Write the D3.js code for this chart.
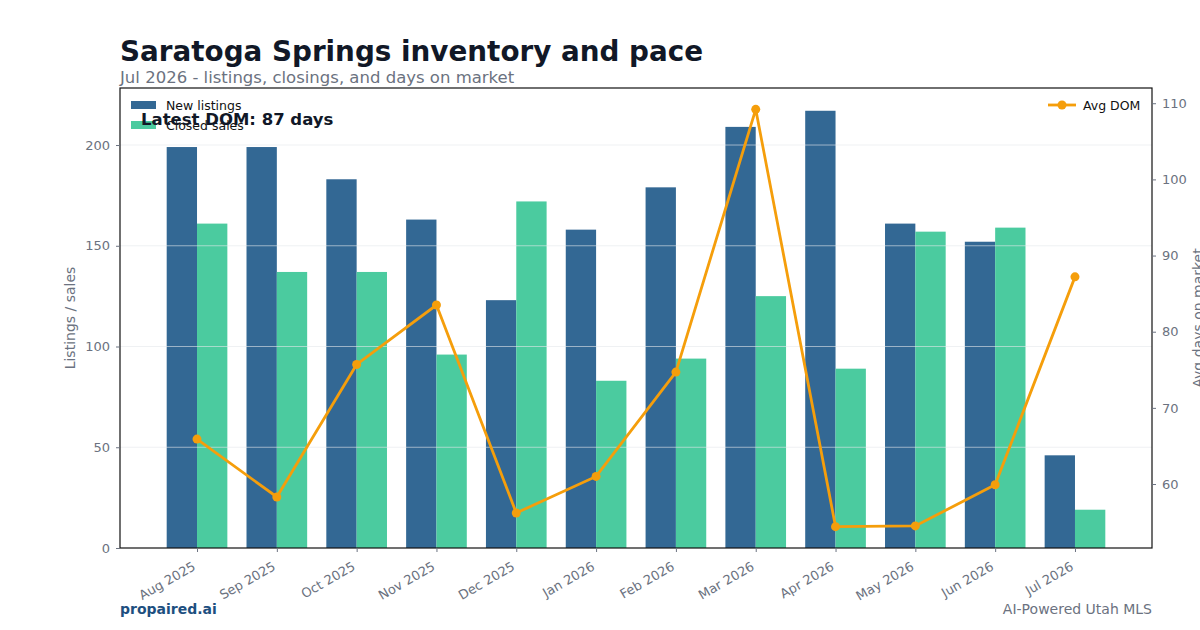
<!DOCTYPE html>
<html>
<head>
    <meta charset="utf-8">
    <title>Saratoga Springs inventory and pace</title>
    <script src="https://d3js.org/d3.v7.min.js"></script>
    <style>
        body { margin: 0; background: #fff; }
        text { font-family: "DejaVu Sans", sans-serif; }
    </style>
</head>
<body>
    <div id="chart"></div>
    <script>
        // data
        const months = ["Aug 2025", "Sep 2025", "Oct 2025", "Nov 2025", "Dec 2025", "Jan 2026",
                        "Feb 2026", "Mar 2026", "Apr 2026", "May 2026", "Jun 2026", "Jul 2026"];
        const newListings = [199, 199, 183, 163, 123, 158, 179, 209, 217, 161, 152, 46];
        const closedSales = [161, 137, 137, 96, 172, 83, 94, 125, 89, 157, 159, 19];
        const avgDom = [65.9, 58.3, 75.7, 83.5, 56.2, 61.0, 74.7, 109.2, 54.4, 54.5, 59.9, 87.2];
        const leftTicks = [0, 50, 100, 150, 200];
        const rightTicks = [60, 70, 80, 90, 100, 110];

        const width = 1200, height = 630;
        const plot = {left: 120, right: 1152, top: 88, bottom: 548};
        const gray = "#6b7280";

        const svg = d3.select("#chart")
          .append("svg")
            .attr("width", width)
            .attr("height", height);

        const x = d3.scaleLinear()
            .domain([-0.965, months.length - 1 + 0.965])
            .range([plot.left, plot.right]);
        const y = d3.scaleLinear().domain([0, 228.3]).range([plot.bottom, plot.top]);
        const y2 = d3.scaleLinear().domain([51.6, 112]).range([plot.bottom, plot.top]);
        const barW = (x(1) - x(0)) * 0.38;

        // titles
        svg.append("text").attr("x", 120).attr("y", 61)
            .attr("font-size", 27.8).attr("font-weight", "bold").attr("fill", "#111827")
            .text("Saratoga Springs inventory and pace");
        svg.append("text").attr("x", 120).attr("y", 83)
            .attr("font-size", 16.5).attr("fill", gray)
            .text("Jul 2026 - listings, closings, and days on market");

        // bars
        const idx = d3.range(months.length);
        svg.append("g").selectAll("rect").data(idx).join("rect")
            .attr("x", i => x(i) - barW)
            .attr("y", i => y(newListings[i]))
            .attr("width", barW)
            .attr("height", i => y(0) - y(newListings[i]))
            .attr("fill", "#336894");
        svg.append("g").selectAll("rect").data(idx).join("rect")
            .attr("x", i => x(i))
            .attr("y", i => y(closedSales[i]))
            .attr("width", barW)
            .attr("height", i => y(0) - y(closedSales[i]))
            .attr("fill", "#4bcb9f");

        // grid (drawn above bars, as in the reference)
        svg.append("g").selectAll("line").data(leftTicks.slice(1)).join("line")
            .attr("x1", plot.left).attr("x2", plot.right)
            .attr("y1", d => y(d)).attr("y2", d => y(d))
            .attr("stroke", "#e5e7eb").attr("stroke-opacity", 0.6).attr("stroke-width", 1);

        // DOM line
        svg.append("path")
            .datum(idx)
            .attr("fill", "none")
            .attr("stroke", "#f59e0b")
            .attr("stroke-width", 2.8)
            .attr("d", d3.line().x(i => x(i)).y(i => y2(avgDom[i])));
        svg.append("g").selectAll("circle").data(idx).join("circle")
            .attr("cx", i => x(i)).attr("cy", i => y2(avgDom[i]))
            .attr("r", 4.5).attr("fill", "#f59e0b");

        // frame
        svg.append("rect")
            .attr("x", plot.left).attr("y", plot.top)
            .attr("width", plot.right - plot.left).attr("height", plot.bottom - plot.top)
            .attr("fill", "none").attr("stroke", "#111").attr("stroke-width", 1.2);

        // axes
        const styleAxis = g => {
            g.select(".domain").remove();
            g.selectAll(".tick line").attr("stroke", gray);
            g.selectAll(".tick text").attr("fill", gray).attr("font-size", 13)
                .attr("font-family", "DejaVu Sans, sans-serif");
        };
        svg.append("g").attr("transform", `translate(${plot.left},0)`)
            .call(d3.axisLeft(y).tickValues(leftTicks).tickSize(4).tickPadding(6))
            .call(styleAxis);
        svg.append("g").attr("transform", `translate(${plot.right},0)`)
            .call(d3.axisRight(y2).tickValues(rightTicks).tickSize(4).tickPadding(6))
            .call(styleAxis);
        const xAxis = svg.append("g").attr("transform", `translate(0,${plot.bottom})`)
            .call(d3.axisBottom(x).tickValues(idx).tickFormat(i => months[i]).tickSize(4))
            .call(styleAxis);
        xAxis.selectAll(".tick text")
            .attr("text-anchor", "end")
            .attr("x", 0).attr("y", 0).attr("dy", 0)
            .attr("transform", "translate(-1,21) rotate(-30)");

        // axis labels
        svg.append("text")
            .attr("transform", `translate(75,${(plot.top + plot.bottom) / 2}) rotate(-90)`)
            .attr("text-anchor", "middle").attr("font-size", 14).attr("fill", gray)
            .text("Listings / sales");
        svg.append("text")
            .attr("transform", `translate(1203,${(plot.top + plot.bottom) / 2}) rotate(-90)`)
            .attr("text-anchor", "middle").attr("font-size", 14).attr("fill", gray)
            .text("Avg days on market");

        // legends
        const legendL = svg.append("g");
        [["New listings", "#336894"], ["Closed sales", "#4bcb9f"]].forEach((d, i) => {
            legendL.append("rect").attr("x", 131).attr("y", 101 + i * 20)
                .attr("width", 25).attr("height", 8).attr("fill", d[1]);
            legendL.append("text").attr("x", 166).attr("y", 110 + i * 20)
                .attr("font-size", 12.5).attr("fill", "#111").text(d[0]);
        });
        const legendR = svg.append("g");
        legendR.append("line").attr("x1", 1048).attr("x2", 1076).attr("y1", 105).attr("y2", 105)
            .attr("stroke", "#f59e0b").attr("stroke-width", 2.8);
        legendR.append("circle").attr("cx", 1062).attr("cy", 105).attr("r", 4.5).attr("fill", "#f59e0b");
        legendR.append("text").attr("x", 1083).attr("y", 109.5)
            .attr("font-size", 12.5).attr("fill", "#111").text("Avg DOM");

        // annotation
        svg.append("text").attr("x", 141).attr("y", 125)
            .attr("font-size", 16.5).attr("font-weight", "bold").attr("fill", "#111827")
            .text("Latest DOM: " + Math.round(avgDom[avgDom.length - 1]) + " days");

        // footer
        svg.append("text").attr("x", 120).attr("y", 614)
            .attr("font-size", 14).attr("font-weight", "bold").attr("fill", "#1d4f7f")
            .text("propaired.ai");
        svg.append("text").attr("x", 1152).attr("y", 614).attr("text-anchor", "end")
            .attr("font-size", 14).attr("fill", gray)
            .text("AI-Powered Utah MLS");
    </script>
</body>
</html>
